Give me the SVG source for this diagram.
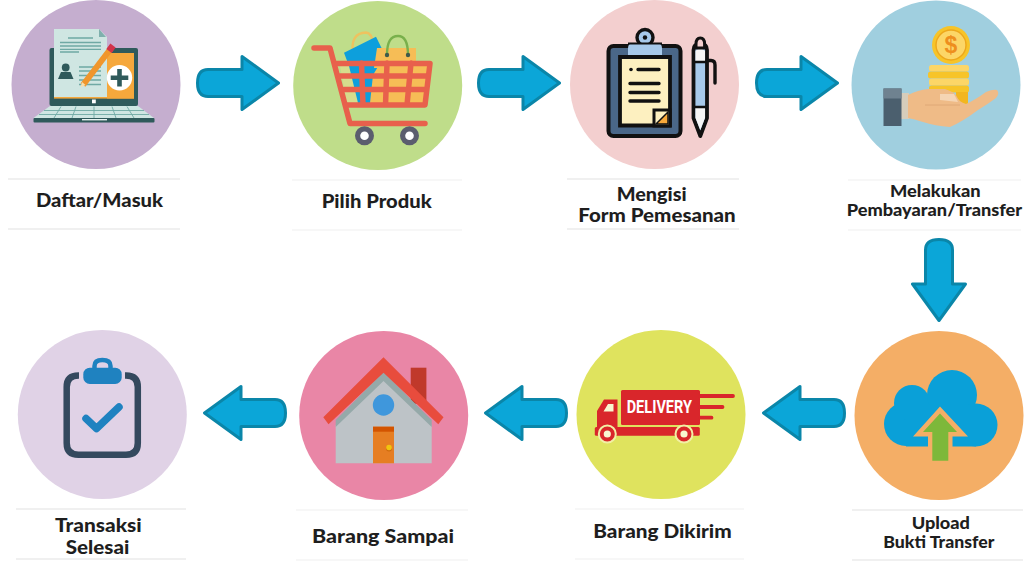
<svg xmlns="http://www.w3.org/2000/svg" width="1024" height="561" viewBox="0 0 1024 561">
<style>
.lb{font-family:"Lato","Liberation Sans",sans-serif;font-weight:900;font-size:19.500px;fill:#1e1e1e}
.sm{font-size:16px}
.rule{stroke:#e2e2e2;stroke-width:1.2}
.rule2{stroke:#f0f0f0;stroke-width:1.2}
.ar{fill:#0ba6d8;stroke:#0a86a9;stroke-width:3;stroke-linejoin:round}
.rd{fill:none;stroke:#e8604c;stroke-width:5.500;stroke-linecap:round;stroke-linejoin:round}
.bl{fill:none;stroke:#111;stroke-width:3.400;stroke-linecap:round;stroke-linejoin:round}
.pl{stroke:#6fa9a4;stroke-width:1.3}
</style>
<defs>
<path id="arrow" class="ar" d="M12-13.500H46V-26.500L82.500 0L46 26.500V13.500H12Q1.500 13.500 1.500 0Q1.500-13.500 12-13.500Z"/>
</defs>
<rect width="1024" height="561" fill="#fff"/>

<g id="connectors">
<use href="#arrow" transform="translate(196 83)"/>
<use href="#arrow" transform="translate(477 83)"/>
<use href="#arrow" transform="translate(755 83)"/>
<use href="#arrow" transform="translate(939 238) rotate(90)"/>
<use href="#arrow" transform="translate(846 413) rotate(180)"/>
<use href="#arrow" transform="translate(568 413) rotate(180)"/>
<use href="#arrow" transform="translate(287 413) rotate(180)"/>
</g>

<g id="node-daftar">
<circle cx="96" cy="84.500" r="84.500" fill="#c5aecf"/>
<rect x="49.500" y="48" width="88.500" height="58" rx="2" fill="#2f5a5b"/>
<path d="M54 29H99L107 37V97H54Z" fill="#cfe6e2"/>
<path d="M99 29L106 37H99Z" fill="#7fb0ad"/>
<rect x="54" y="97" width="80" height="1.600" fill="#f5a83c"/>
<rect x="107" y="53" width="27" height="45.500" fill="#f5a83c"/>
<circle cx="119.500" cy="77.700" r="12.700" fill="#fff"/>
<path d="M110.700 77.700H128.300M119.500 68.900V86.500" stroke="#2f5a5b" stroke-width="4.600"/>
<path class="pl" d="M68 38H93M60 42.500H101M60 46H101M60 49.300H101M60 52H79M79 67H101M79 71H101M79 75.500H101M79 80H101M79 84.500H101"/>
<circle cx="65.700" cy="67.500" r="3.900" fill="#2f5a5b"/>
<path d="M58 79L61 72H70.500L73.500 79Z" fill="#2f5a5b"/>
<path d="M83 85L112 47" stroke="#f0962c" stroke-width="6"/>
<path d="M109 51L113 45.500" stroke="#d2334a" stroke-width="6.500"/>
<path d="M80.500 87.500L82 82L85.500 85Z" fill="#f6dfae"/>
<path d="M50 106H138L154 118H33.500Z" fill="#cfe6e2"/>
<path d="M44 110.500H144M39 114.500H149M61 106.500L54 118M76 106.500L72 118M94 106.500V118M112 106.500L116 118M127 106.500L134 118" stroke="#6fa9a4" stroke-width="0.900"/>
<rect x="33.500" y="118" width="121" height="4.500" rx="1" fill="#2f5a5b"/>
<rect x="82" y="119" width="25" height="1.400" fill="#e8f3f1"/>
<rect x="92" y="99.500" width="3.800" height="3.800" fill="#fff"/>
<text class="lb" x="36" y="207.300" textLength="127" lengthAdjust="spacingAndGlyphs">Daftar/Masuk</text>
<path class="rule" d="M8 179H180M8 229H180"/>
</g>

<g id="node-pilih">
<circle cx="377.700" cy="85.500" r="84.500" fill="#bfdd8a"/>
<path d="M340 66H372L370 104H347Z" fill="#d6dd8c"/>
<path d="M370 62H428L424 104H368Z" fill="#f6bd56"/>
<path d="M353 54Q350 33 366 32.500Q372 33 373 44" fill="none" stroke="#eec25f" stroke-width="2.400"/>
<path d="M344 52.700L376 36.700L385 55L373 75L370 103H358L349 66Z" fill="#0d9fdc"/>
<path d="M377 48H416V68H374Z" fill="#f6bd56"/>
<path d="M387 55Q387 36 398 36Q408 36 408 55" fill="none" stroke="#79b04c" stroke-width="2.400"/>
<circle cx="387" cy="55" r="2.200" fill="#3e5a4a"/>
<circle cx="408" cy="55" r="2.200" fill="#3e5a4a"/>
<path class="rd" d="M314 48H330L350 123.500H425"/>
<path class="rd" d="M335 63.500H430L425 105H346M340 76H428M344 89.500H426M361.500 63L363 105M387 63L385.500 105M411 63L407 105"/>
<g fill="#5b5d6e"><circle cx="364.500" cy="135.700" r="9.500"/><circle cx="409.500" cy="135.700" r="9.500"/></g>
<g fill="#fff"><circle cx="364.500" cy="135.700" r="4.300"/><circle cx="409.500" cy="135.700" r="4.300"/></g>
<text class="lb" x="321.700" y="207.500" textLength="110" lengthAdjust="spacingAndGlyphs">Pilih Produk</text>
<path class="rule2" d="M292 180H462M292 230H462"/>
</g>

<g id="node-mengisi">
<circle cx="654.500" cy="84.500" r="84.500" fill="#f3cfcf"/>
<rect x="608.500" y="46" width="72" height="90" rx="5" fill="#4a6788" stroke="#111" stroke-width="4"/>
<path d="M620 57H670V125.500H620Z" fill="#fdf0c0" stroke="#111" stroke-width="3.800"/>
<circle cx="645" cy="37.500" r="8" fill="#a7c9ea" stroke="#111" stroke-width="3.400"/>
<circle cx="645" cy="37.500" r="2.200" fill="#111"/>
<path d="M628 55V48Q628 43 634 43H656Q662 43 662 48V55Z" fill="#a7c9ea"/>
<path d="M628 43.500H662" stroke="#111" stroke-width="2"/>
<path class="bl" d="M638 69.500H659M630 83.500H659M630 92.500H659M630 101H659"/>
<circle cx="631" cy="69.500" r="1.800" fill="#111"/>
<path d="M654 126V110H670V126Z" fill="#fdf0c0" stroke="#111" stroke-width="3"/>
<path d="M656 124L668 112V124Z" fill="#f7a93b" stroke="#111" stroke-width="1.500"/>
<path d="M693.500 50Q693.500 44 700.300 44Q707 44 707 50V118L700.300 136L693.500 118Z" fill="#a7c9ea" stroke="#111" stroke-width="3.800" stroke-linejoin="round"/>
<path d="M695.500 62V51Q700 46 705 51V62Z" fill="#f6f6f6"/>
<path d="M695.500 108H705V118L700.300 130L695.500 118Z" fill="#f6f6f6"/>
<path d="M694 62H706.600M694 107H706.600" stroke="#111" stroke-width="2.400"/>
<path d="M696 44Q696 38 700.300 38Q704.600 38 704.600 44V48H696Z" fill="#f3cfcf" stroke="#111" stroke-width="3"/>
<path class="bl" d="M707 60.500H711Q715 60.500 715 65V83"/>
<text class="lb" x="616.700" y="201" textLength="70" lengthAdjust="spacingAndGlyphs">Mengisi</text>
<text class="lb" x="578.300" y="222.300" textLength="157.400" lengthAdjust="spacingAndGlyphs">Form Pemesanan</text>
<path class="rule" d="M567 179H739M567 229H739"/>
</g>

<g id="node-pembayaran">
<circle cx="936" cy="85" r="84.500" fill="#a0cfdf"/>
<rect x="929" y="65" width="40" height="6.500" rx="2.500" fill="#fcd667"/>
<rect x="928" y="71.500" width="41" height="7" rx="2.500" fill="#f7c428"/>
<rect x="929" y="78.500" width="40" height="7" rx="2.500" fill="#fcd667"/>
<rect x="929" y="85.500" width="40" height="7" rx="2.500" fill="#f7c428"/>
<rect x="956" y="92" width="12" height="12" fill="#f2b61f"/>
<circle cx="951" cy="45" r="19" fill="#f7c428"/>
<circle cx="951" cy="45" r="15" fill="#fcd667" stroke="#eda71c" stroke-width="1.400"/>
<text x="951" y="53" font-family="Liberation Sans, sans-serif" font-weight="700" font-size="23" fill="#ee8f1e" text-anchor="middle">$</text>
<rect x="900" y="93" width="9" height="26" fill="#d6cdbb"/>
<path d="M908 95Q918 90 928 89H945Q955 92 957 97Q959 102 966 104Q975 100 986 92Q993 89 997 90Q1000 93 996 98Q988 104 978 110Q962 122 950 127Q935 126 923 122Q914 119 908 118Z" fill="#efbb87"/>
<path d="M940 94H954L958 102L940 100Z" fill="#f5d5b4"/>
<path d="M925 105H960" stroke="#dfa877" stroke-width="1"/>
<rect x="883.500" y="88.500" width="18" height="37.500" fill="#4b5f6e"/>
<rect x="883.500" y="88.500" width="18" height="10" fill="#6f8290"/>
<text class="lb sm" x="890" y="196.700" textLength="90.700" lengthAdjust="spacingAndGlyphs">Melakukan</text>
<text class="lb sm" x="846.700" y="216" textLength="175.500" lengthAdjust="spacingAndGlyphs">Pembayaran/Transfer</text>
<path class="rule2" d="M848 180H1021M848 230H1021"/>
</g>

<g id="node-upload">
<circle cx="939" cy="415.500" r="84.500" fill="#f4ae66"/>
<g fill="#0aa0d8">
<circle cx="906" cy="424" r="22"/>
<circle cx="912" cy="403" r="18"/>
<circle cx="952" cy="395" r="25"/>
<circle cx="976" cy="425" r="21.500"/>
<rect x="906" y="405" width="70" height="41.500"/>
</g>
<path d="M940 406.500L968 436.500H952.500V447H928V436.500H913Z" fill="#f4ae66"/>
<path d="M940 413.500L957 432H948.300V460.700H932.300V432H923Z" fill="#7db83a"/>
<text class="lb sm" x="911.700" y="529" textLength="58.300" lengthAdjust="spacingAndGlyphs">Upload</text>
<text class="lb sm" x="883.300" y="548.300" textLength="111" lengthAdjust="spacingAndGlyphs">Bukti Transfer</text>
<path class="rule" d="M852 510H1023M852 560H1023"/>
</g>

<g id="node-dikirim">
<circle cx="661" cy="414.500" r="84.500" fill="#dfe35e"/>
<rect x="621" y="390" width="79" height="35" rx="1.500" fill="#d9262b"/>
<path d="M700 396H733M700 407H722.500M700 417.700H711.500" stroke="#d9262b" stroke-width="3.800" stroke-linecap="round"/>
<path d="M597 427V411L604 399.500H617.500V427Z" fill="#d9262b"/>
<path d="M603.500 411.500L608 404H613.500V411.500Z" fill="#f8f6d0"/>
<rect x="594.800" y="427" width="105" height="8.700" rx="1.500" fill="#d9262b"/>
<g fill="#d9262b" stroke="#f2efa5" stroke-width="2"><circle cx="607.300" cy="434" r="8.500"/><circle cx="684" cy="434" r="8.500"/></g>
<circle cx="607.300" cy="434" r="3.600" fill="#f8f6d0"/>
<circle cx="684" cy="434" r="3.600" fill="#f8f6d0"/>
<text x="626.700" y="413.300" textLength="65.300" lengthAdjust="spacingAndGlyphs" font-family="Roboto, Liberation Sans, sans-serif" font-weight="700" font-size="18.500" fill="#fff">DELIVERY</text>
<text class="lb" x="593.300" y="538" textLength="138.400" lengthAdjust="spacingAndGlyphs">Barang Dikirim</text>
<path class="rule2" d="M575 509H744M575 559H744"/>
</g>

<g id="node-sampai">
<circle cx="383.700" cy="415.500" r="84.500" fill="#e986a6"/>
<rect x="410.700" y="367.700" width="15.700" height="36" fill="#c0392b"/>
<path d="M335.700 463.300H431.700V425L383.500 376L335.700 425Z" fill="#bdc3c7"/>
<path d="M335.700 427V420L383.500 372L431.700 420V427L383.500 381Z" fill="#95a9a9"/>
<path d="M383.500 357.300L443.500 417.300L438.300 424.300L383.500 372.700L328.500 424.300L323.300 417.300Z" fill="#e84c3d"/>
<circle cx="383.500" cy="405" r="10.700" fill="#3f97dc"/>
<rect x="373" y="426.700" width="21" height="36.600" fill="#e67e22"/>
<rect x="373" y="426.700" width="21" height="5" fill="#d35400"/>
<circle cx="389" cy="448.500" r="3" fill="#cf6a10"/>
<circle cx="389" cy="447.500" r="2.800" fill="#f1c40f"/>
<text class="lb" x="312" y="543.300" textLength="142" lengthAdjust="spacingAndGlyphs">Barang Sampai</text>
<path class="rule2" d="M296 510H468M296 560H468"/>
</g>

<g id="node-selesai">
<circle cx="102.300" cy="414.500" r="84.500" fill="#e0d2e6"/>
<path d="M79 375.500H78.500Q66.700 375.500 66.700 387V443Q66.700 454.800 78.500 454.800H126Q137.800 454.800 137.800 443V387Q137.800 375.500 126 375.500H125" fill="none" stroke="#34495e" stroke-width="6.500"/>
<path d="M94.500 368V366Q94.500 360 102.300 360Q110.500 360 110.500 366V368" fill="none" stroke="#1f82c0" stroke-width="4.500"/>
<rect x="83.300" y="367.700" width="38.400" height="16.300" rx="6.500" fill="#1f82c0"/>
<path d="M86 418.500L96.500 428.500L119 407" fill="none" stroke="#1f82c0" stroke-width="7.500" stroke-linecap="round" stroke-linejoin="round"/>
<text class="lb" x="55" y="532.300" textLength="86.700" lengthAdjust="spacingAndGlyphs">Transaksi</text>
<text class="lb" x="65.700" y="554" textLength="63.600" lengthAdjust="spacingAndGlyphs">Selesai</text>
<path class="rule" d="M16 509H186M16 559H186"/>
</g>
</svg>
